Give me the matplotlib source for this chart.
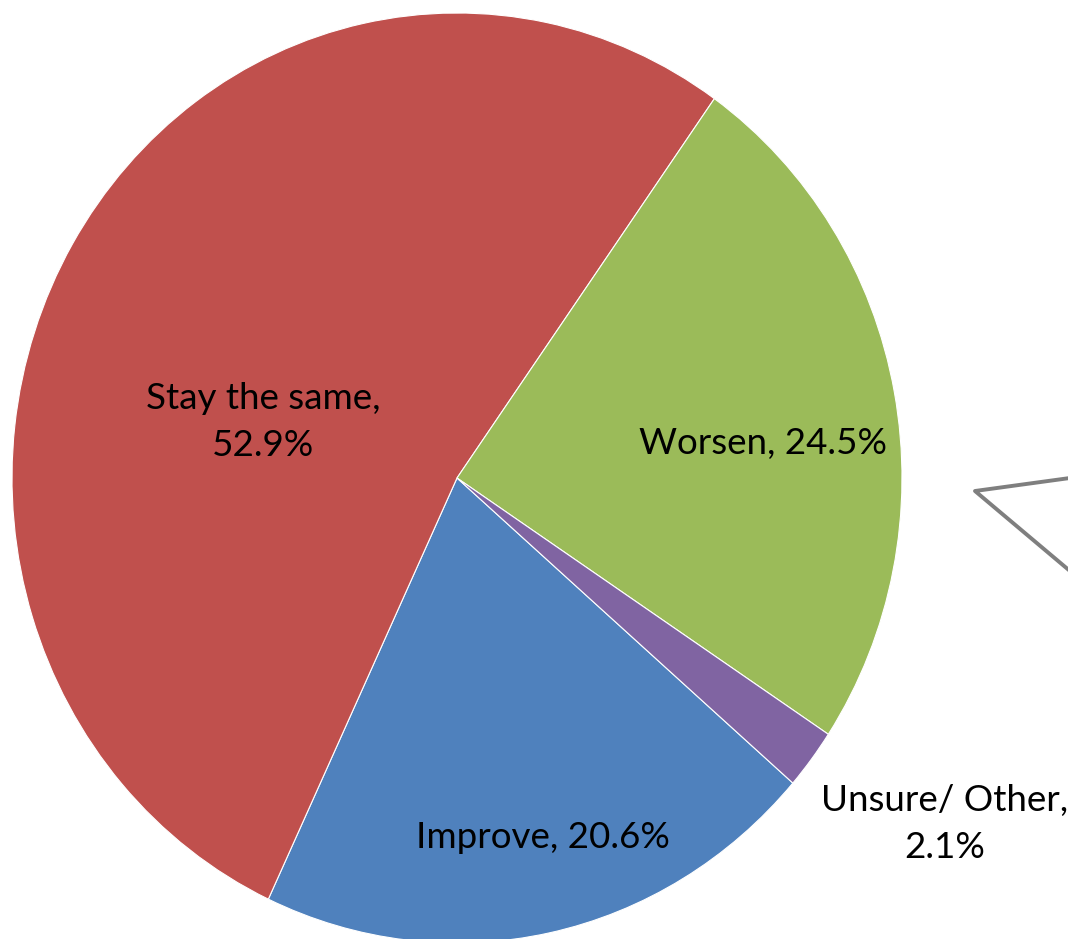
import matplotlib
matplotlib.use("Agg")
import matplotlib.pyplot as plt

# data (Excel-style pie, clockwise from the blue slice)
labels = ["Improve", "Stay the same", "Worsen", "Unsure/ Other"]
shares = [20.6, 52.9, 24.5, 2.1]
colors = ["#4F81BD", "#C0504D", "#9BBB59", "#8064A2"]
label_text = ["Improve, 20.6%", "Stay the same,\n52.9%", "Worsen, 24.5%", "Unsure/ Other,\n2.1%"]

W, H = 1068, 939
cx, cy = 457, 478      # pie centre in pixels (from top-left)
rx, ry = 445, 465      # pie is slightly stretched vertically

fig = plt.figure(figsize=(W / 100, H / 100), dpi=100)
ax = fig.add_axes([0, 0, 1, 1])

wedges, _ = ax.pie(shares, colors=colors, startangle=-41.0, counterclock=False,
                   wedgeprops=dict(edgecolor="white", linewidth=0.8))
ax.set_aspect("auto")
ax.set_xlim(-cx / rx, (W - cx) / rx)
ax.set_ylim(-(H - cy) / ry, cy / ry)
ax.axis("off")


def px(x, y):
    # pixel position -> data coords
    return (x - cx) / rx, (cy - y) / ry


# label positions in pixels
label_pos = [(543, 838), (263, 422), (763, 443), (945, 824)]
for txt, (x, y) in zip(label_text, label_pos):
    ax.text(*px(x, y), txt, ha="center", va="center", fontsize=26.5,
            family="Lato", color="black", linespacing=1.5)

# part of a callout shape cut off at the right edge
callout = [(1070, 478), (975, 491), (1070, 571)]
xs, ys = zip(*[px(x, y) for x, y in callout])
ax.plot(xs, ys, color="#7F7F7F", linewidth=2.8, clip_on=False)

fig.savefig("out.png", dpi=100)
